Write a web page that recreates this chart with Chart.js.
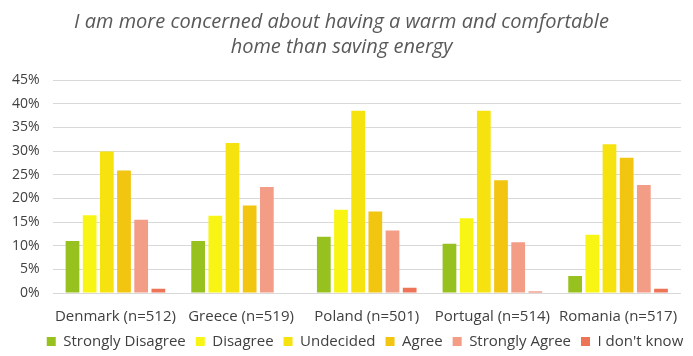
<!DOCTYPE html>
<html>
<head>
<meta charset="utf-8">
<script src="https://cdn.jsdelivr.net/npm/chart.js@4/dist/chart.umd.min.js"></script>
<style>
html,body{margin:0;padding:0;background:#fff;}
#wrap{width:693px;height:356px;position:relative;}
</style>
</head>
<body>
<div id="wrap"><canvas id="c"></canvas></div>
<script>
const categories = ["Denmark (n=512)", "Greece (n=519)", "Poland (n=501)", "Portugal (n=514)", "Romania (n=517)"];
const stronglyDisagree = [11.0, 11.0, 11.9, 10.4, 3.6];
const disagree = [16.4, 16.3, 17.6, 15.8, 12.3];
const undecided = [29.9, 31.7, 38.5, 38.5, 31.4];
const agree = [25.9, 18.5, 17.2, 23.8, 28.6];
const stronglyAgree = [15.5, 22.4, 13.2, 10.7, 22.8];
const dontKnow = [0.9, 0, 1.1, 0.3, 0.9];
const seriesNames = ["Strongly Disagree", "Disagree", "Undecided", "Agree", "Strongly Agree", "I don't know"];
const seriesColors = ["#97C11F", "#F8F514", "#F5E20F", "#F2C511", "#F39C86", "#EE7458"];
const titleLines = ["I am more concerned about having a warm and comfortable", "home than saving energy"];

const seriesData = [stronglyDisagree, disagree, undecided, agree, stronglyAgree, dontKnow];
const FONT = "'Open Sans', sans-serif";

// Legend placement helper: shrink the legend's reserved height and position it explicitly
const legendTweak = {
  id: 'legendTweak',
  beforeLayout(chart) {
    const lg = chart.legend;
    if (lg && !lg._wrapped) {
      const f = lg.fit;
      lg.fit = function () { f.call(this); this.height -= 20; };
      lg._wrapped = true;
    }
  },
  afterLayout(chart) {
    const lg = chart.legend;
    if (!lg) return;
    lg.top = 324; lg.bottom = 356; lg.height = 32;
    lg.left = 30; lg.right = 700; lg.width = 670;
  }
};

new Chart(document.getElementById('c'), {
  type: 'bar',
  data: {
    labels: categories,
    datasets: seriesNames.map((n, i) => ({
      label: n,
      data: seriesData[i],
      backgroundColor: seriesColors[i],
      borderWidth: 0,
      categoryPercentage: 0.82,
      barPercentage: 0.8
    }))
  },
  plugins: [legendTweak],
  options: {
    responsive: true,
    maintainAspectRatio: false,
    animation: false,
    layout: { padding: { left: -1, right: 9, top: 6, bottom: 0 } },
    plugins: {
      title: {
        display: true,
        text: titleLines,
        color: '#595959',
        font: { family: FONT, size: 20, style: 'italic', weight: 'normal', lineHeight: 1.25 },
        padding: { top: 4, bottom: 20 }
      },
      legend: {
        position: 'bottom',
        labels: {
          color: '#404040',
          font: { family: FONT, size: 15 },
          boxWidth: 9,
          boxHeight: 9,
          padding: 10
        }
      },
      tooltip: { enabled: false }
    },
    scales: {
      x: {
        grid: { display: false, drawTicks: false },
        border: { display: false },
        ticks: { color: '#404040', font: { family: FONT, size: 15 }, padding: 15, maxRotation: 0 }
      },
      y: {
        min: 0,
        max: 45,
        grid: { color: '#D9D9D9', lineWidth: 1, drawTicks: false },
        border: { display: false },
        ticks: {
          stepSize: 5,
          color: '#404040',
          font: { family: FONT, size: 14 },
          padding: 13,
          callback: v => v + '%'
        }
      }
    }
  }
});
</script>
</body>
</html>
